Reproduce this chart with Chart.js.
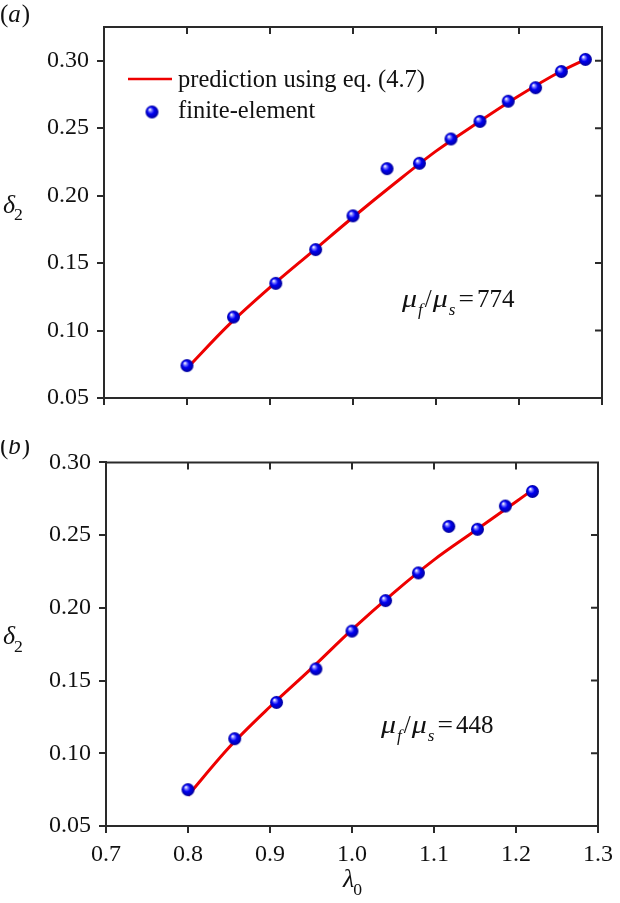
<!DOCTYPE html>
<html>
<head>
<meta charset="utf-8">
<script src="https://cdn.jsdelivr.net/npm/chart.js@4/dist/chart.umd.min.js"></script>
<style>
  html, body { margin: 0; padding: 0; background: #fff; }
  #wrap { position: relative; width: 620px; height: 903px; overflow: hidden; }
  .panel { position: absolute; left: 0; }
</style>
</head>
<body>
<div id="wrap">
  <canvas id="chartA" class="panel" width="620" height="440" style="top:0"></canvas>
  <canvas id="chartB" class="panel" width="620" height="463" style="top:440px"></canvas>
</div>
<script>
// ── Data ───────────────────────────────────────────────────────────

// panel (a): mu_f / mu_s = 774
const LAMBDA_FE_A = [0.800, 0.856, 0.907, 0.955, 1.000, 1.041, 1.080, 1.118, 1.153, 1.187, 1.220, 1.251, 1.280];
const DELTA_FE_A  = [0.074, 0.110, 0.135, 0.160, 0.185, 0.220, 0.224, 0.242, 0.255, 0.270, 0.280, 0.292, 0.301];
const LAMBDA_FIT_A = [0.80, 0.85, 0.90, 0.95, 1.00, 1.05, 1.10, 1.15, 1.20, 1.25, 1.28];
const DELTA_FIT_A  = [0.072, 0.104, 0.132, 0.158, 0.184, 0.209, 0.233, 0.254, 0.274, 0.292, 0.301];

// panel (b): mu_f / mu_s = 448
const LAMBDA_FE_B = [0.800, 0.857, 0.908, 0.956, 1.000, 1.041, 1.081, 1.118, 1.153, 1.187, 1.220];
const DELTA_FE_B  = [0.075, 0.110, 0.135, 0.158, 0.184, 0.205, 0.224, 0.256, 0.254, 0.270, 0.280];
const LAMBDA_FIT_B = [0.80, 0.85, 0.90, 0.95, 1.00, 1.05, 1.10, 1.15, 1.20, 1.22];
const DELTA_FIT_B  = [0.071, 0.104, 0.132, 0.158, 0.185, 0.210, 0.233, 0.253, 0.273, 0.281];

// axes
const X_TICKS   = [0.7, 0.8, 0.9, 1.0, 1.1, 1.2, 1.3];
const Y_TICKS_A = [0.05, 0.10, 0.15, 0.20, 0.25, 0.30];
const Y_TICKS_B = [0.05, 0.10, 0.15, 0.20, 0.25, 0.30];

const LEGEND_LABELS = ['prediction using eq. (4.7)', 'finite-element'];

// ── Styling ────────────────────────────────────────────────────────

const SERIF = '"Liberation Serif", "Times New Roman", serif';
const AXIS = '#2a2a2a';
const INK = '#111';
const RED = '#ee0000';
const TICK_LEN = 7;

function makeBall(r) {
  const c = document.createElement('canvas');
  const s = 2 * r + 2;
  c.width = c.height = s;
  const g = c.getContext('2d');
  const cx = s / 2, cy = s / 2;
  const grad = g.createRadialGradient(cx - r * 0.35, cy - r * 0.4, r * 0.05, cx, cy, r);
  grad.addColorStop(0, '#ffffff');
  grad.addColorStop(0.22, '#7a7aff');
  grad.addColorStop(0.5, '#0000f2');
  grad.addColorStop(1, '#00009a');
  g.fillStyle = grad;
  g.beginPath();
  g.arc(cx, cy, r, 0, Math.PI * 2);
  g.fill();
  return c;
}
const BALL = makeBall(6.5);

const toXY = (xs, ys) => xs.map((x, i) => ({ x, y: ys[i] }));

// text with italic / subscript / stretched parts
function drawRich(ctx, x, y, parts, size) {
  parts.forEach(p => {
    const fs = p.sub ? size * 0.68 : size;
    const sx = p.sx || 1;
    ctx.font = `${p.it ? 'italic ' : ''}${fs}px ${SERIF}`;
    ctx.save();
    ctx.translate(x, y + (p.sub ? size * 0.3 : 0));
    ctx.scale(sx, 1);
    ctx.fillText(p.t, 0, 0);
    ctx.restore();
    x += ctx.measureText(p.t).width * sx + (p.gap || 0);
  });
}

// ── Plugins ────────────────────────────────────────────────────────

// top + right frame with inward ticks
const framePlugin = {
  id: 'frame',
  afterDatasetsDraw(chart) {
    const { ctx, chartArea: a, scales } = chart;
    ctx.save();
    ctx.strokeStyle = AXIS;
    ctx.lineWidth = 2;
    ctx.beginPath();
    ctx.moveTo(a.left, a.top); ctx.lineTo(a.right, a.top); ctx.lineTo(a.right, a.bottom);
    scales.x.ticks.forEach(t => {
      const px = scales.x.getPixelForValue(t.value);
      ctx.moveTo(px, a.top); ctx.lineTo(px, a.top + TICK_LEN);
    });
    scales.y.ticks.forEach(t => {
      const py = scales.y.getPixelForValue(t.value);
      ctx.moveTo(a.right, py); ctx.lineTo(a.right - TICK_LEN, py);
    });
    ctx.stroke();
    ctx.restore();
  },
};

// panel letter, axis titles, ratio annotation, legend
const decorPlugin = {
  id: 'decor',
  afterDraw(chart, args, opts) {
    const { ctx, chartArea: a } = chart;
    ctx.save();
    ctx.fillStyle = INK;
    ctx.textBaseline = 'alphabetic';
    ctx.textAlign = 'left';

    drawRich(ctx, 0, opts.panelY, [{ t: '(' }, { t: opts.panel, it: true, gap: 1 }, { t: ')' }], 25);

    const midY = (a.top + a.bottom) / 2;
    drawRich(ctx, 3, midY, [{ t: 'δ', it: true, gap: -1 }, { t: '2', sub: true }], 26);

    drawRich(ctx, opts.ratioX, opts.ratioY, [
      { t: 'μ', it: true, sx: 1.2, gap: 1 }, { t: 'f', it: true, sub: true, gap: 2 }, { t: '/', gap: 1 },
      { t: 'μ', it: true, sx: 1.2, gap: 1 }, { t: 's', it: true, sub: true, gap: 3 },
      { t: '=', sx: 1.1, gap: 3 }, { t: opts.ratio },
    ], 25);

    if (opts.xTitle) {
      drawRich(ctx, 343, opts.xTitleY, [{ t: 'λ', it: true, gap: -1 }, { t: '0', sub: true }], 26);
    }

    if (opts.legend) {
      ctx.strokeStyle = RED;
      ctx.lineWidth = 2.5;
      ctx.beginPath();
      ctx.moveTo(a.left + 24, a.top + 52);
      ctx.lineTo(a.left + 68, a.top + 52);
      ctx.stroke();
      ctx.font = `24.5px ${SERIF}`;
      ctx.fillText(LEGEND_LABELS[0], a.left + 74, a.top + 60);
      ctx.drawImage(BALL, a.left + 48 - BALL.width / 2, a.top + 85 - BALL.height / 2);
      ctx.fillText(LEGEND_LABELS[1], a.left + 74, a.top + 91);
    }
    ctx.restore();
  },
};

// ── Chart builder ──────────────────────────────────────────────────

function buildChart(canvasId, cfg) {
  const tickFont = { family: SERIF, size: 24 };
  return new Chart(document.getElementById(canvasId), {
    data: {
      datasets: [
        {
          type: 'line',
          label: LEGEND_LABELS[0],
          data: toXY(cfg.fitX, cfg.fitY),
          borderColor: RED,
          borderWidth: 3,
          pointRadius: 0,
          cubicInterpolationMode: 'monotone',
          fill: false,
          order: 2,
        },
        {
          type: 'scatter',
          label: LEGEND_LABELS[1],
          data: toXY(cfg.feX, cfg.feY),
          pointStyle: BALL,
          pointRadius: 7,
          order: 1,
          clip: false,
        },
      ],
    },
    options: {
      responsive: false,
      devicePixelRatio: 1,
      animation: false,
      events: [],
      layout: { padding: cfg.padding },
      plugins: {
        legend: { display: false },
        tooltip: { enabled: false },
        decor: cfg.decor,
      },
      scales: {
        x: {
          type: 'linear',
          min: 0.7, max: 1.3,
          afterBuildTicks: s => { s.ticks = X_TICKS.map(v => ({ value: v })); },
          afterFit: s => { s.height = cfg.xHeight; },
          ticks: {
            display: cfg.xLabels,
            font: tickFont, color: INK, padding: 7, maxRotation: 0,
            callback: v => Number(v).toFixed(1),
          },
          grid: { drawOnChartArea: false, drawTicks: true, tickLength: TICK_LEN, color: AXIS, lineWidth: 2 },
          border: { display: true, color: AXIS, width: 2 },
        },
        y: {
          type: 'linear',
          min: 0.05, max: cfg.yMax,
          afterBuildTicks: s => { s.ticks = cfg.yTicks.map(v => ({ value: v })); },
          afterFit: s => { s.width = cfg.yWidth; },
          ticks: {
            font: tickFont, color: INK, padding: 8,
            callback: v => Number(v).toFixed(2),
          },
          grid: { drawOnChartArea: false, drawTicks: true, tickLength: TICK_LEN, color: AXIS, lineWidth: 2 },
          border: { display: true, color: AXIS, width: 2 },
        },
      },
    },
    plugins: [framePlugin, decorPlugin],
  });
}

buildChart('chartA', {
  fitX: LAMBDA_FIT_A, fitY: DELTA_FIT_A, feX: LAMBDA_FE_A, feY: DELTA_FE_A,
  yMax: 0.325, yTicks: Y_TICKS_A,
  padding: { left: 0, right: 18, top: 27, bottom: 0 },
  yWidth: 104, xHeight: 42, xLabels: false,
  decor: { panel: 'a', panelY: 22, ratio: '774', ratioX: 402, ratioY: 307, legend: true, xTitle: false },
});

buildChart('chartB', {
  fitX: LAMBDA_FIT_B, fitY: DELTA_FIT_B, feX: LAMBDA_FE_B, feY: DELTA_FE_B,
  yMax: 0.30, yTicks: Y_TICKS_B,
  padding: { left: 0, right: 16, top: 14, bottom: 0 },
  yWidth: 106, xHeight: 77, xLabels: true,
  decor: { panel: 'b', panelY: 14, ratio: '448', ratioX: 381, ratioY: 293, legend: false, xTitle: true, xTitleY: 447 },
});
</script>
</body>
</html>
